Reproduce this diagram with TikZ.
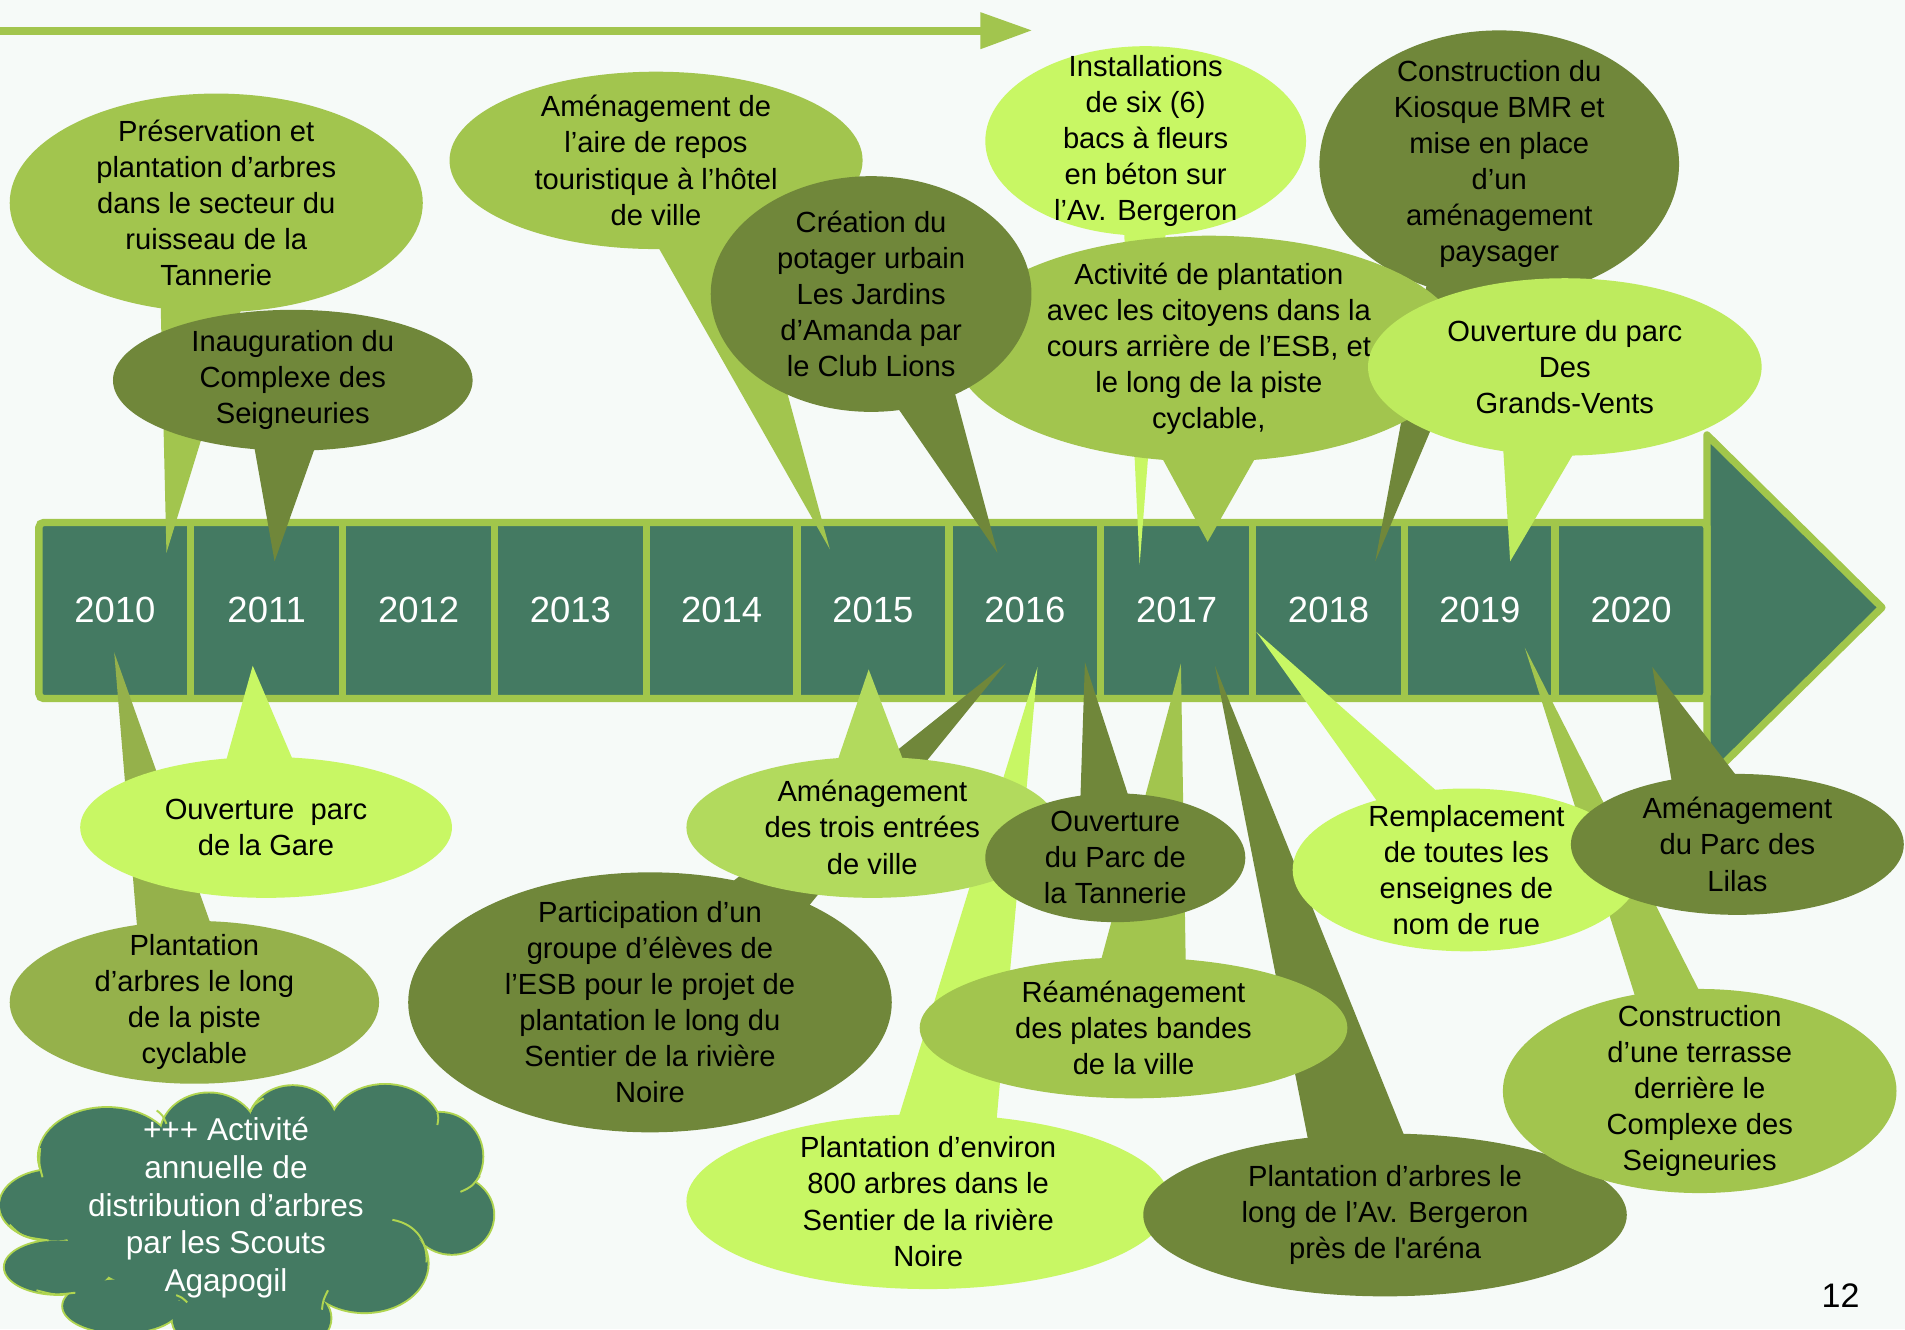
\documentclass[tikz,border=0pt]{standalone}
\usepackage{fontspec}
\setmainfont{Liberation Sans}
\definecolor{bg}{HTML}{F6FAF8}
\definecolor{cmed}{HTML}{A2C54E}
\definecolor{cdark}{HTML}{70873A}
\definecolor{clime}{HTML}{C8F764}
\definecolor{cgv}{HTML}{BEEB5E}
\definecolor{ctrois}{HTML}{B2DA5D}
\definecolor{cpiste}{HTML}{95B14B}
\definecolor{cteal}{HTML}{447A62}
\definecolor{cband}{HTML}{A1C64B}
\definecolor{cloudline}{HTML}{B0D550}
\newcommand\mycallout[9]{%
  \fill[#1] #5 -- #6 -- #7 -- cycle;
  \fill[#1] #2 ellipse [x radius=#3, y radius=#4];
  \node[calltext] (#8) at #2 {#9};
}
\tikzset{
  calltext/.style={align=center, inner sep=0pt, text=black, font=\fontsize{12}{14.85}\selectfont},
  yeartext/.style={inner sep=0pt, text=white, font=\fontsize{15}{18}\selectfont},
  bandline/.style={draw=cband, line width=3pt},
  cloudarc/.style={draw=cloudline, line width=0.8pt},
}
\begin{document}
\begin{tikzpicture}[x=0.5pt,y=-0.5pt]
\useasboundingbox (0,0) rectangle (1568,1094);
\fill[bg] (0,0) rectangle (1568,1094);
\clip (0,0) rectangle (1568,1094);

% top arrow
\draw[cmed, line width=3.3pt] (0,25.5) -- (810,25.5);
\fill[cmed] (807,10) -- (849,25) -- (807,40.5) -- cycle;

% timeline
\draw[bandline, fill=cteal, line join=round] (1405,358) -- (1549,500) -- (1405,642) -- cycle;
\draw[bandline, fill=cteal, rounded corners=2pt] (32,430) rectangle (1405,575);
\foreach \x in {157,282,407,532,656,781,906,1031,1156,1280}
  \draw[bandline] (\x,430) -- (\x,575);
\foreach \yr/\x in {2010/94.5,2011/219.5,2012/344.5,2013/469.5,2014/594,2015/718.5,2016/843.5,2017/968.5,2018/1093.5,2019/1218,2020/1342.5}
  \node[yeartext] (y\yr) at (\x,502) {\yr};

% top callouts
\mycallout{cmed}{(178,167)}{170}{90}{(132,240)}{(203,240)}{(137,455)}{pres}{Préservation et\\plantation d’arbres\\dans le secteur du\\ruisseau de la\\Tannerie}
\mycallout{cdark}{(241,313)}{148}{58}{(207,355)}{(264,355)}{(226,462)}{inaug}{Inauguration du\\Complexe des\\Seigneuries}
\mycallout{cmed}{(540,132)}{170}{73}{(537,195)}{(613,195)}{(683,452)}{aire}{Aménagement de\\l’aire de repos\\touristique à l’hôtel\\de ville}
\mycallout{clime}{(943,116)}{132}{78}{(925,185)}{(960,185)}{(938,465)}{inst}{Installations\\de six (6)\\bacs à fleurs\\en béton sur\\l’Av. Bergeron}
\mycallout{cdark}{(1234,135)}{148}{110}{(1176,225)}{(1232,225)}{(1132,462)}{kiosk}{Construction du\\Kiosque BMR et\\mise en place\\d’un\\aménagement\\paysager}
\mycallout{cmed}{(995,287)}{210}{93}{(950,365)}{(1040,365)}{(994,446)}{activ}{Activité de plantation\\avec les citoyens dans la\\cours arrière de l’ESB, et\\le long de la piste\\cyclable,}
\mycallout{cdark}{(717,242)}{132}{97}{(735,330)}{(785,320)}{(821,455)}{creat}{Création du\\potager urbain\\Les Jardins\\d’Amanda par\\le Club Lions}
\mycallout{cgv}{(1288,302)}{162}{73}{(1237,365)}{(1300,365)}{(1243,462)}{gv}{Ouverture du parc\\Des\\Grands-Vents}

% bottom callouts
\mycallout{cpiste}{(160,825)}{152}{67}{(113,765)}{(175,765)}{(94,537)}{piste}{Plantation\\d’arbres le long\\de la piste\\cyclable}
\mycallout{clime}{(219,681)}{153}{58}{(185,630)}{(243,630)}{(208,548)}{gare}{Ouverture~ parc\\de la Gare}
\mycallout{cdark}{(535,825)}{199}{107}{(585,740)}{(650,765)}{(828,546)}{partic}{Participation d’un\\groupe d’élèves de\\l’ESB pour le projet de\\plantation le long du\\Sentier de la rivière\\Noire}
\mycallout{clime}{(764,989)}{199}{72}{(738,925)}{(820,925)}{(854,549)}{huit}{Plantation d’environ\\800 arbres dans le\\Sentier de la rivière\\Noire}
\mycallout{ctrois}{(718,681)}{153}{58}{(688,630)}{(745,630)}{(715,551)}{trois}{Aménagement\\des trois entrées\\de ville}
\mycallout{cdark}{(1140,1000)}{199}{67}{(1078,945)}{(1160,945)}{(1000,548)}{berg}{Plantation d’arbres le\\long de l’Av. Bergeron\\près de l\textquotesingle aréna}
\mycallout{cmed}{(933,846)}{176}{58}{(905,795)}{(976,795)}{(972,546)}{ream}{Réaménagement\\des plates bandes\\de la ville}
\mycallout{cdark}{(918,706)}{107}{53}{(889,665)}{(932,665)}{(893,545)}{tann}{Ouverture\\du Parc de\\la Tannerie}
\mycallout{cmed}{(1399,898)}{162}{84}{(1349,830)}{(1406,830)}{(1255,533)}{terr}{Construction\\d’une terrasse\\derrière le\\Complexe des\\Seigneuries}
\mycallout{clime}{(1207,716)}{143}{67}{(1141,670)}{(1204,670)}{(1034,520)}{rempl}{Remplacement\\de toutes les\\enseignes de\\nom de rue}
\mycallout{cdark}{(1430,695)}{137}{58}{(1378,655)}{(1442,655)}{(1360,549)}{lilas}{Aménagement\\du Parc des\\Lilas}

% cloud
\foreach \cx/\cy/\rx/\ry in {88/952/56/40, 172/935/40/35, 241/925/36/31, 317/930/46/37, 362/952/35/36, 372/1000/34/32, 300/1040/52/40, 207/1085/65/35, 100/1075/48/22, 48/1043/44/22, 44/992/44/29, 200/1000/150/75}
  \draw[cloudline, line width=1.6pt] (\cx,\cy) ellipse [x radius=\rx, y radius=\ry];
\foreach \cx/\cy/\rx/\ry in {88/952/56/40, 172/935/40/35, 241/925/36/31, 317/930/46/37, 362/952/35/36, 372/1000/34/32, 300/1040/52/40, 207/1085/65/35, 100/1075/48/22, 48/1043/44/22, 44/992/44/29, 200/1000/150/75}
  \fill[cteal] (\cx,\cy) ellipse [x radius=\rx, y radius=\ry];
\draw[cloudarc] (323,1004) .. controls (345,1008) and (352,1025) .. (351,1039);
\draw[cloudarc] (8,1008) .. controls (18,1018) .. (40,1021);
\draw[cloudarc] (30,1062) .. controls (45,1066) .. (62,1064);
\draw[cloudarc] (379,981) .. controls (388,977) .. (395,968);
\draw[cloudarc] (33,945) .. controls (32,958) .. (35,969);
\draw[cloudarc] (206,915) .. controls (209,909) .. (217,904);
\draw[cloudarc] (129,914) .. controls (134,918) .. (137,925);
\draw[cloudarc] (360,916) .. controls (361,920) .. (360,926);
\draw[cloudarc] (270,1062) .. controls (266,1070) .. (265,1078);
\draw[cloudarc] (145,1066) .. controls (150,1068) .. (154,1072);
\node[align=center, inner sep=0pt, text=white, font=\fontsize{13}{15.5}\selectfont] (scouts) at (186,994) {+++ Activité\\annuelle de\\distribution d’arbres\\par les Scouts\\Agapogil};

% page number
\node[inner sep=0pt, font=\fontsize{14}{16}\selectfont] (pagenum) at (1515,1066) {12};
\end{tikzpicture}
\end{document}
